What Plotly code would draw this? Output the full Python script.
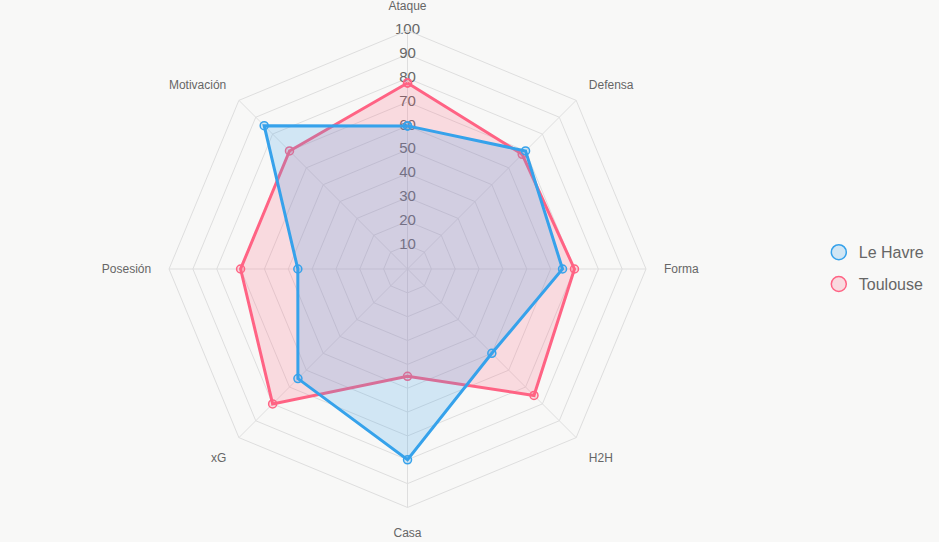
import plotly.graph_objects as go

categories = ["Ataque", "Defensa", "Forma", "H2H", "Casa", "xG", "Posesión", "Motivación"]
le_havre = [60, 70, 65, 50, 80, 65, 46, 85]
toulouse = [78, 68, 70, 75, 45, 80, 70, 70]
tick_vals = [10, 20, 30, 40, 50, 60, 70, 80, 90, 100]

BLUE = "rgb(54,162,235)"
BLUE_F = "rgba(54,162,235,0.2)"
PINK = "rgb(255,99,132)"
PINK_F = "rgba(255,99,132,0.2)"
BG = "#f8f8f7"
GRID = "#dedede"
FONT = "Liberation Sans, Arial, Helvetica, sans-serif"

fig = go.Figure()

# radial tick labels drawn along the Ataque spoke
fig.add_trace(go.Scatterpolar(
    r=tick_vals, theta=[categories[0]] * len(tick_vals),
    mode="text", text=[str(v) for v in tick_vals],
    textposition="middle center",
    textfont=dict(family=FONT, size=15, color="#666"),
    showlegend=False, hoverinfo="skip",
))

def closed(vals):
    return vals + vals[:1]

for name, vals, col, fcol in [("Toulouse", toulouse, PINK, PINK_F), ("Le Havre", le_havre, BLUE, BLUE_F)]:
    fig.add_trace(go.Scatterpolar(
        r=closed(vals), theta=closed(categories), name=name,
        mode="lines+markers", fill="toself", fillcolor=fcol,
        line=dict(color=col, width=3),
        marker=dict(size=8, color=fcol, line=dict(color=col, width=1.5)),
        showlegend=False,
    ))

for name, col, fcol in [("Le Havre", BLUE, BLUE_F), ("Toulouse", PINK, PINK_F)]:
    fig.add_trace(go.Scatterpolar(
        r=[None], theta=[categories[0]], name=name, mode="markers",
        legendgroup=name,
        marker=dict(size=15, color=fcol, line=dict(color=col, width=1.5)),
        showlegend=True,
    ))

fig.update_layout(
    width=939, height=542,
    paper_bgcolor=BG, plot_bgcolor=BG,
    margin=dict(l=0, r=0, t=0, b=0),
    font=dict(family=FONT, color="#666"),
    polar=dict(
        bgcolor=BG,
        domain=dict(x=[0.18, 0.688], y=[0.0637, 0.9437]),
        gridshape="linear",
        radialaxis=dict(range=[0, 100], tickvals=tick_vals, showticklabels=False,
                        ticks="", showline=False, gridcolor=GRID, gridwidth=1),
        angularaxis=dict(rotation=90, direction="clockwise", gridcolor=GRID,
                         showline=True, linecolor=GRID, linewidth=1,
                         ticks="outside", ticklen=15, tickcolor="rgba(0,0,0,0)",
                         tickfont=dict(family=FONT, size=12, color="#666")),
    ),
    legend=dict(x=0.872, y=0.505, xanchor="left", yanchor="middle",
                font=dict(family=FONT, size=16, color="#666"), bgcolor="rgba(0,0,0,0)",
                tracegroupgap=8, itemsizing="trace"),
)

fig.write_html("out.html")
